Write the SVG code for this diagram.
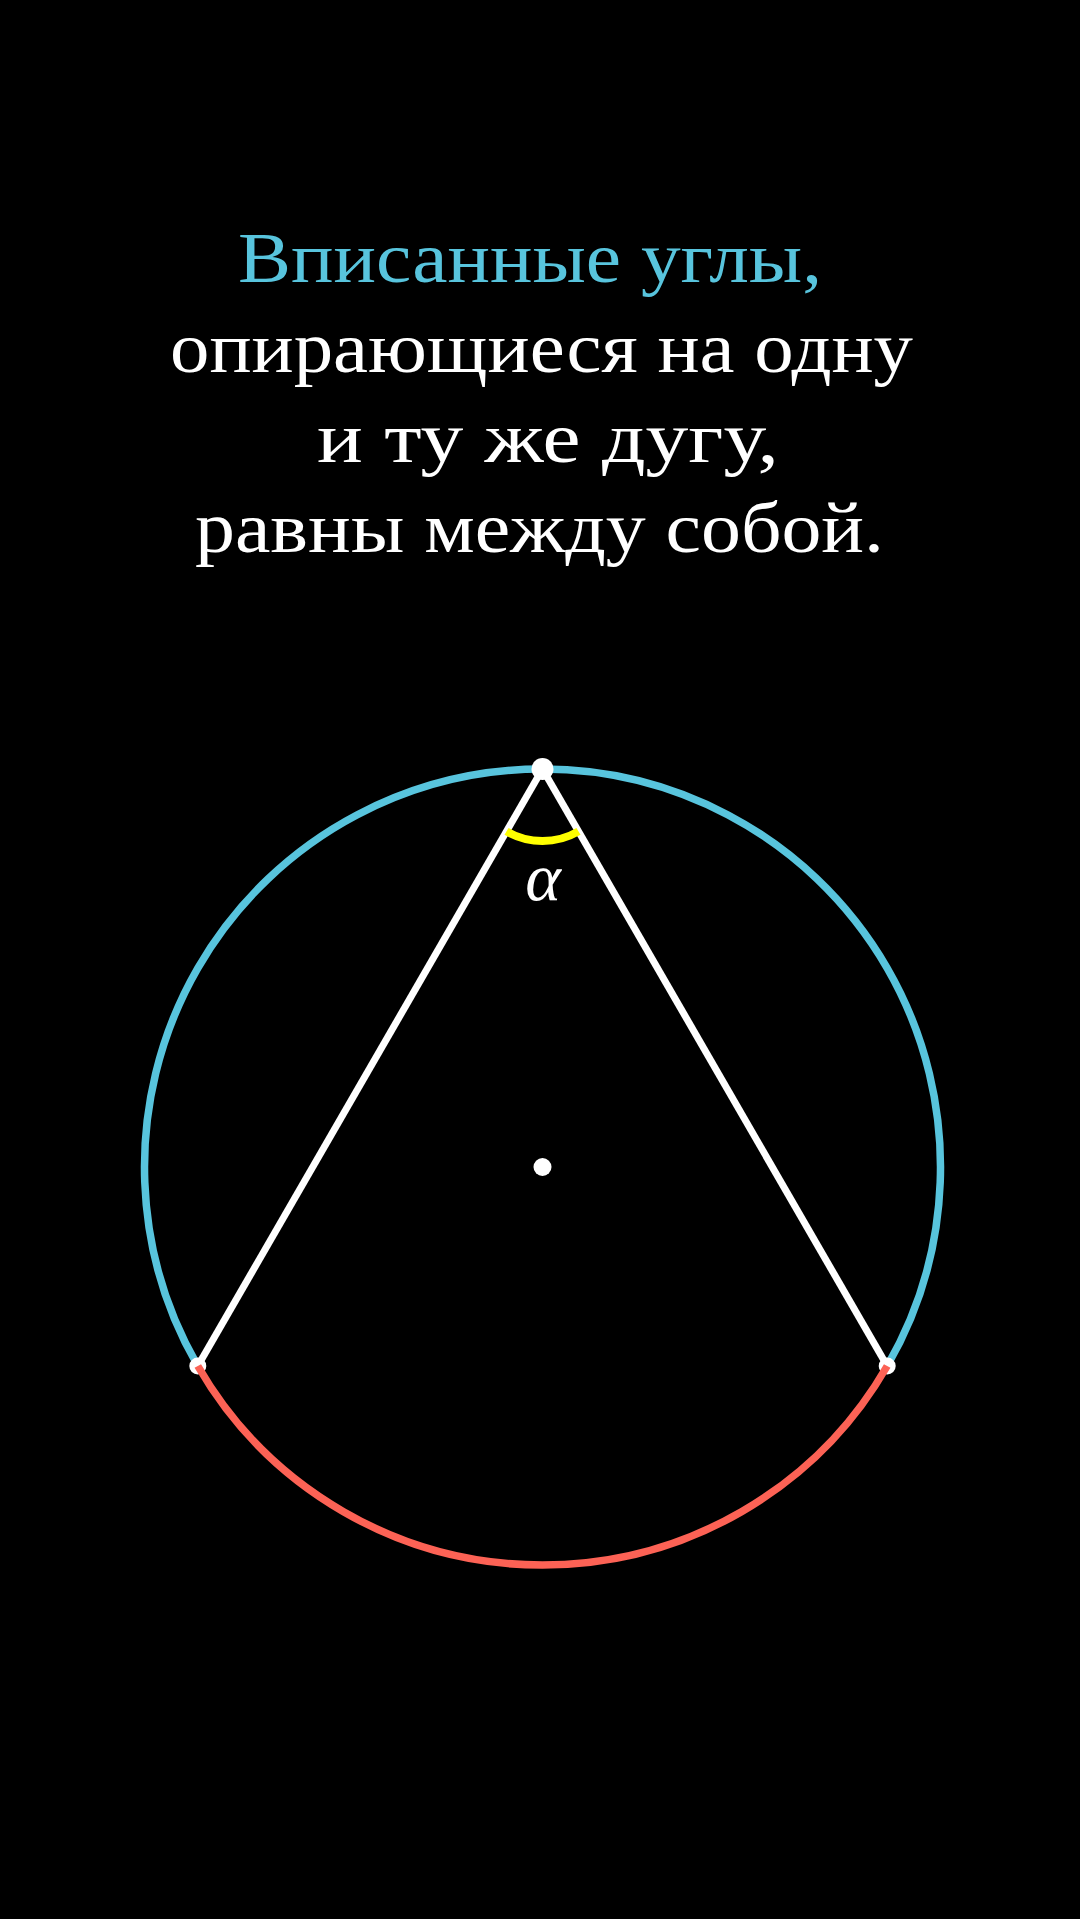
<svg xmlns="http://www.w3.org/2000/svg" width="1080" height="1919" viewBox="0 0 1080 1919">
<style>
.t{font-family:"Liberation Serif","DejaVu Serif",serif;font-size:72px;fill:#FFFFFF}
.c{fill:#58C4DD}
.dot{fill:#FFFFFF}
</style>
<rect x="0" y="0" width="1080" height="1919" fill="#000000"/>
<g id="title">
<text class="t c" x="238" y="282" textLength="584" lengthAdjust="spacingAndGlyphs">Вписанные углы,</text>
<text class="t" x="170" y="372" textLength="743" lengthAdjust="spacingAndGlyphs">опирающиеся на одну</text>
<text class="t" x="317" y="462" textLength="462" lengthAdjust="spacingAndGlyphs">и ту же дугу,</text>
<text class="t" x="195" y="552" textLength="689" lengthAdjust="spacingAndGlyphs">равны между собой.</text>
</g>
<g id="circle-major">
<path d="M 197.8 1366 A 398 398 0 1 1 887.2 1366" fill="none" stroke="#58C4DD" stroke-width="7.5"/>
</g>
<g id="connectors">
<line x1="542.5" y1="769" x2="197.8" y2="1366" stroke="#FFFFFF" stroke-width="7"/>
<line x1="542.5" y1="769" x2="887.2" y2="1366" stroke="#FFFFFF" stroke-width="7"/>
</g>
<g id="angle">
<path d="M 506.5 831.4 A 72 72 0 0 0 578.5 831.4" fill="none" stroke="#FFFF00" stroke-width="8"/>
<text x="543" y="900" text-anchor="middle" font-family="Liberation Serif, DejaVu Serif, serif" font-style="italic" font-size="68" fill="#FFFFFF">α</text>
</g>
<g id="points">
<circle class="dot" cx="542.5" cy="769" r="11"/>
<circle class="dot" cx="542.5" cy="1167" r="9"/>
<circle class="dot" cx="197.8" cy="1366" r="8.5"/>
<circle class="dot" cx="887.2" cy="1366" r="8.5"/>
</g>
<g id="circle-minor">
<path d="M 197.8 1366 A 398 398 0 0 0 887.2 1366" fill="none" stroke="#FC6255" stroke-width="7.5"/>
</g>
</svg>
